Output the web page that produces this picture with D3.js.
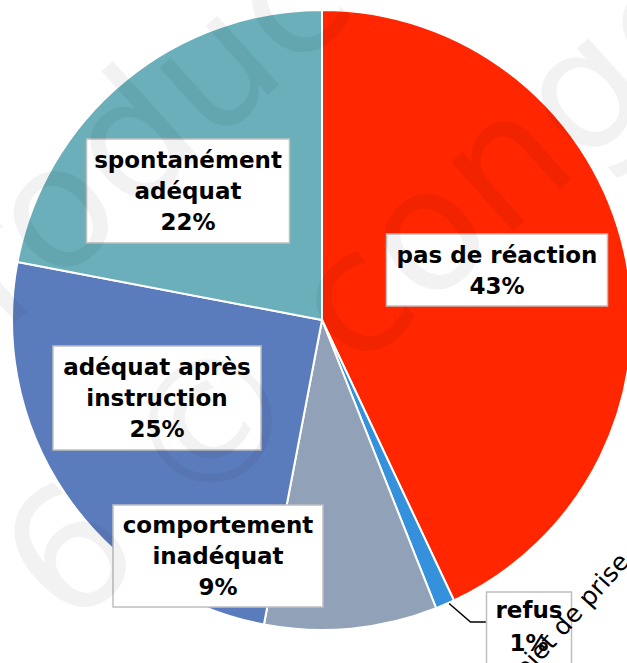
<!DOCTYPE html>
<html>
    <head>
        <script src="https://d3js.org/d3.v7.min.js"></script>
        <style>
            body { margin: 0; background: #fff; }
            #vizBody { width: 627px; height: 663px; overflow: hidden; }
        </style>
    </head>
    <body>
        <div id="vizBody"></div>
    </body>
    <script>
        //data
        let categories = ["pas de réaction", "refus", "comportement inadéquat", "adéquat après instruction", "spontanément adéquat"],
            values = [43, 1, 9, 25, 22],
            labelLines = [["pas de réaction"], ["refus"], ["comportement", "inadéquat"], ["adéquat après", "instruction"], ["spontanément", "adéquat"]],
            colors = ["#FF2600", "#3591DC", "#91A2B8", "#5B7CBC", "#6AAFBA"];

        //where each label box sits (centre, size)
        let boxes = [
            {cx: 497, cy: 270, w: 221, h: 72},
            {cx: 529, cy: 628, w: 85, h: 72},
            {cx: 218, cy: 556, w: 210, h: 102},
            {cx: 157, cy: 398, w: 208, h: 104},
            {cx: 188, cy: 191, w: 203, h: 104}
        ];

        let width = 627,
            height = 663,
            cx = 322,
            cy = 320,
            radius = 310,
            lineHeight = 31;

        let svg = d3.select("#vizBody")
                    .append("svg")
                        .attr("width", width)
                        .attr("height", height);

        let chart = svg.append("g")
                       .attr("transform", "translate(" + cx + "," + cy + ")");

        let pie = d3.pie().sort(null).value(d => d);
        let arcs = pie(values);

        let arc = d3.arc().innerRadius(0).outerRadius(radius);
        let edge = d3.arc().innerRadius(radius).outerRadius(radius);

        chart.selectAll("path.slice")
             .data(arcs)
             .enter()
             .append("path")
                .attr("class", "slice")
                .attr("d", arc)
                .style("fill", (d, i) => colors[i])
                .style("stroke", "#fff")
                .style("stroke-width", 2);

        //leader line for the tiny slice
        let p0 = edge.centroid(arcs[1]);
        let b = boxes[1];
        let elbowY = b.cy - 6;
        svg.append("polyline")
           .attr("points", [
                [cx + p0[0] + 4, cy + p0[1] - 1],
                [b.cx - b.w / 2 - 16, elbowY],
                [b.cx - b.w / 2, elbowY]
           ].map(p => p.join(",")).join(" "))
           .style("fill", "none")
           .style("stroke", "#000")
           .style("stroke-width", 1.5);

        //label boxes
        let labels = svg.selectAll("g.label")
                        .data(arcs)
                        .enter()
                        .append("g")
                            .attr("class", "label")
                            .attr("transform", (d, i) => "translate(" + boxes[i].cx + "," + boxes[i].cy + ")");

        labels.append("rect")
              .attr("x", (d, i) => -boxes[i].w / 2)
              .attr("y", (d, i) => -boxes[i].h / 2)
              .attr("width", (d, i) => boxes[i].w)
              .attr("height", (d, i) => boxes[i].h)
              .style("fill", "#fff")
              .style("stroke", "#BFBFBF")
              .style("stroke-width", 1.5);

        labels.each(function(d, i) {
            let lines = labelLines[i].concat([values[i] + "%"]);
            let top = (i === 1) ? -18 : -(lines.length - 1) * lineHeight / 2;
            let t = d3.select(this).append("text")
                      .attr("text-anchor", "middle")
                      .style("font-family", "'DejaVu Sans', sans-serif")
                      .style("font-weight", "bold")
                      .style("font-size", "23px")
                      .style("fill", "#000");
            lines.forEach((s, k) => {
                t.append("tspan")
                 .attr("x", 0)
                 .attr("y", top + k * (i === 1 ? 33 : lineHeight))
                 .attr("dy", "0.36em")
                 .text(s);
            });
        });

        //stamp text crossing the bottom right corner
        let stamp = svg.append("g")
                       .attr("transform", "translate(541,662) rotate(-48)")
                       .style("font-family", "'DejaVu Sans', sans-serif")
                       .style("font-size", "25px")
                       .style("fill", "#000");
        stamp.append("text").attr("text-anchor", "start").text("et de prise de vue");
        stamp.append("text").attr("text-anchor", "end").text("obj");

        //faint watermark over everything
        let mark = svg.append("g")
                      .style("font-family", "'DejaVu Sans', sans-serif")
                      .style("font-size", "170px")
                      .style("fill", "#000")
                      .style("fill-opacity", 0.05)
                      .style("pointer-events", "none");
        mark.append("text")
            .attr("transform", "translate(68,632) rotate(-42)")
            .text("6 © congo");
        mark.append("text")
            .attr("transform", "translate(-203,519) rotate(-42)")
            .text("reproduction");
    </script>
</html>
